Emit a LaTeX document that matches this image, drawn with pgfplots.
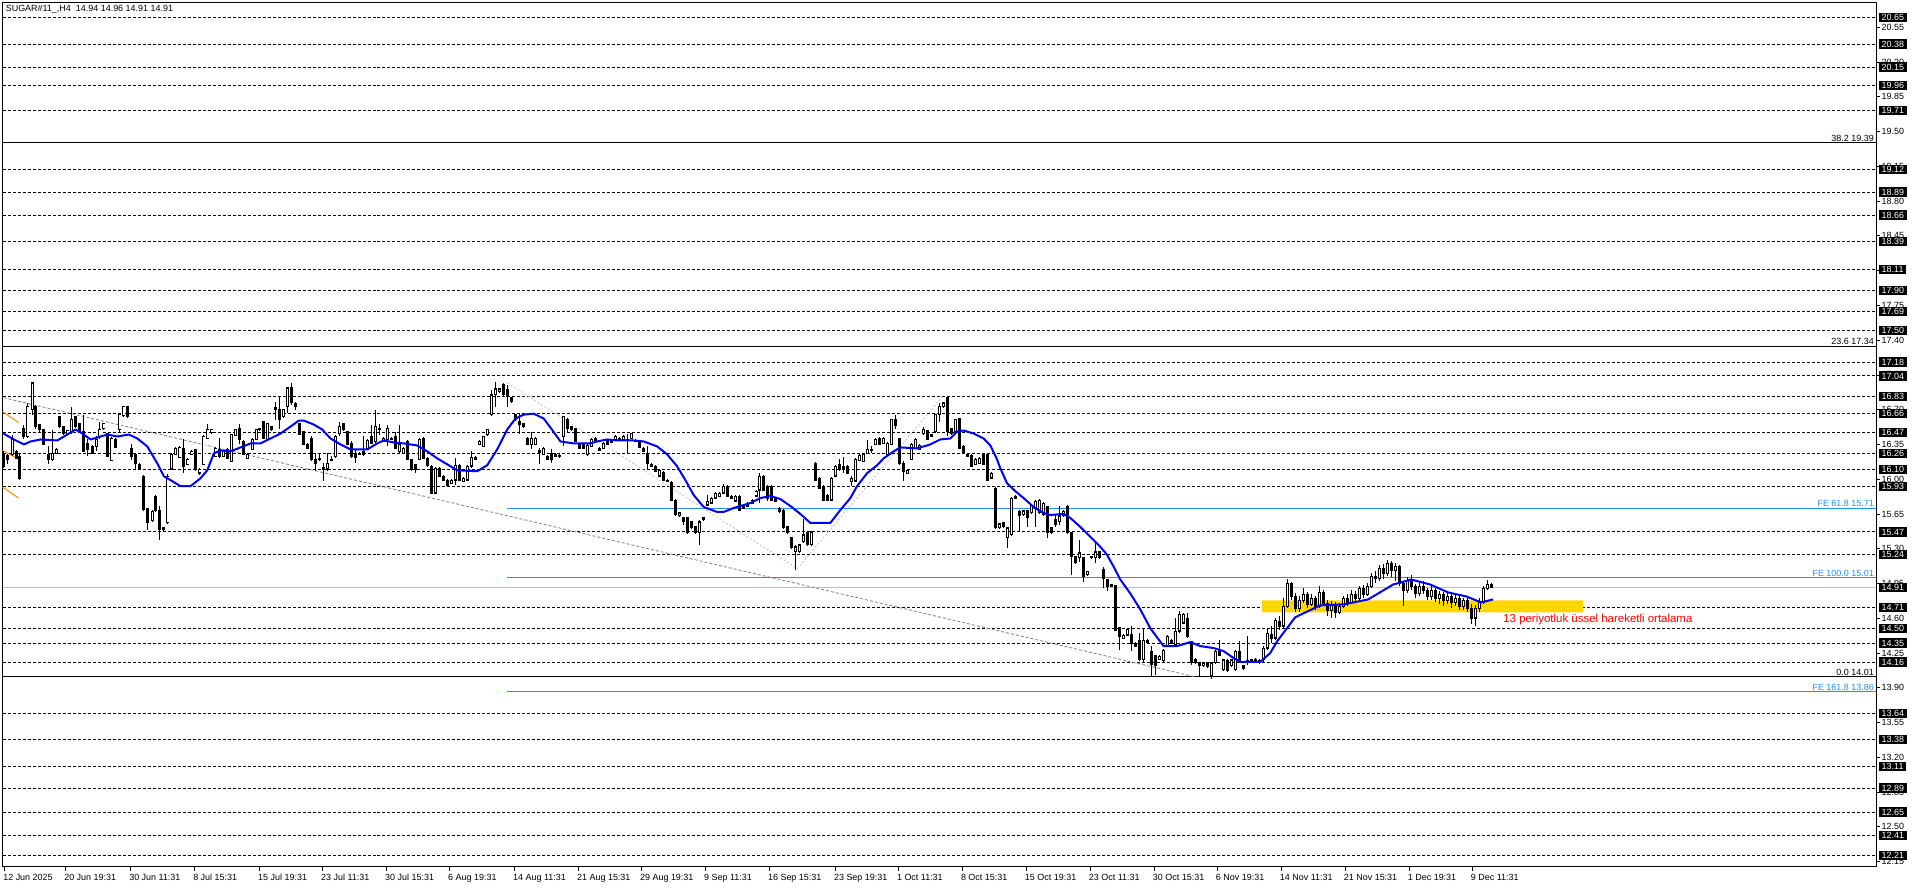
\documentclass[border=0pt]{standalone}
\usepackage{fontspec}
\setmainfont{Liberation Sans}
\usepackage{pgfplots}
\usepackage{pgfplotstable}
\pgfplotsset{compat=1.18}
\definecolor{feblue}{HTML}{1E90FF}
\definecolor{maBlue}{HTML}{0000FF}
\definecolor{goldy}{HTML}{FFD700}
\definecolor{orng}{HTML}{FF8C00}
\definecolor{silv}{HTML}{C0C0C0}

\pgfplotstableread{
x o h l c
2.7 16.26 16.28 16.11 16.13
7.3 16.24 16.25 16.15 16.20
11.7 16.25 16.45 16.23 16.40
15.7 16.28 16.29 16.20 16.21
19.3 16.23 16.25 15.99 16.01
23.3 16.51 16.55 16.40 16.43
27.3 16.43 16.77 16.41 16.73
31.7 16.70 16.97 16.65 16.97
35.3 16.73 16.75 16.51 16.53
39.3 16.55 16.56 16.48 16.50
43.3 16.50 16.51 16.34 16.35
47.7 16.25 16.33 16.15 16.20
51.7 16.20 16.50 16.18 16.26
55.7 16.26 16.31 16.25 16.30
59.3 16.63 16.64 16.52 16.53
63.3 16.53 16.54 16.45 16.46
67.3 16.46 16.50 16.45 16.49
71.0 16.48 16.73 16.46 16.60
75.3 16.63 16.64 16.52 16.53
79.3 16.56 16.57 16.47 16.48
83.3 16.48 16.65 16.27 16.28
87.3 16.36 16.40 16.23 16.30
91.7 16.33 16.34 16.25 16.26
95.7 16.33 16.43 16.28 16.40
99.3 16.43 16.58 16.40 16.50
103.3 16.51 16.57 16.50 16.56
107.3 16.46 16.47 16.22 16.23
111.3 16.19 16.42 16.18 16.41
115.3 16.40 16.41 16.31 16.32
119.3 16.50 16.67 16.48 16.65
123.3 16.64 16.74 16.63 16.73
127.3 16.73 16.74 16.62 16.63
131.3 16.31 16.35 16.19 16.23
135.3 16.25 16.25 16.09 16.16
139.3 16.15 16.16 16.10 16.11
143.3 16.03 16.04 15.68 15.69
147.3 15.71 15.71 15.49 15.56
151.7 15.58 15.69 15.57 15.68
155.3 15.83 15.84 15.67 15.68
159.3 15.69 15.73 15.39 15.49
163.3 15.51 15.52 15.48 15.49
167.3 15.56 16.05 15.55 16.03
171.0 16.10 16.26 16.09 16.25
175.0 16.25 16.32 16.24 16.31
179.3 16.22 16.33 16.21 16.32
183.3 16.31 16.40 16.06 16.13
187.3 16.15 16.21 16.14 16.20
191.3 16.25 16.29 16.24 16.28
195.3 16.30 16.30 16.08 16.10
199.3 16.06 16.11 16.04 16.10
203.3 16.15 16.44 16.14 16.43
207.3 16.41 16.56 16.40 16.50
211.3 16.47 16.51 16.46 16.50
215.3 16.23 16.32 16.22 16.31
219.3 16.30 16.41 16.21 16.23
223.3 16.23 16.29 16.22 16.28
227.3 16.30 16.31 16.20 16.21
231.3 16.18 16.46 16.17 16.45
235.3 16.44 16.51 16.43 16.50
239.3 16.51 16.56 16.35 16.40
243.3 16.38 16.39 16.24 16.25
247.3 16.21 16.26 16.20 16.25
251.7 16.30 16.41 16.29 16.40
255.7 16.40 16.51 16.39 16.50
259.3 16.50 16.52 16.49 16.51
263.3 16.58 16.59 16.40 16.41
267.3 16.40 16.57 16.39 16.56
271.3 16.53 16.54 16.49 16.50
275.3 16.70 16.78 16.60 16.72
279.3 16.70 16.83 16.51 16.60
283.3 16.63 16.71 16.62 16.70
287.3 16.73 16.92 16.67 16.92
291.3 16.92 16.97 16.75 16.77
295.3 16.76 16.78 16.70 16.73
299.3 16.56 16.57 16.44 16.45
303.3 16.48 16.49 16.34 16.35
307.3 16.35 16.36 16.30 16.31
311.3 16.41 16.43 16.18 16.20
315.3 16.20 16.25 16.08 16.16
319.3 16.20 16.25 16.18 16.21
323.3 16.12 16.16 15.98 16.10
327.3 16.10 16.26 16.08 16.16
331.3 16.19 16.23 16.18 16.20
335.3 16.23 16.45 16.21 16.43
339.3 16.46 16.58 16.43 16.53
343.3 16.56 16.57 16.49 16.50
347.3 16.48 16.49 16.34 16.35
351.3 16.36 16.38 16.21 16.23
355.3 16.26 16.30 16.16 16.22
359.3 16.25 16.27 16.24 16.26
363.3 16.28 16.43 16.23 16.25
367.3 16.30 16.40 16.29 16.39
371.3 16.43 16.55 16.35 16.36
375.3 16.38 16.70 16.36 16.53
379.3 16.51 16.56 16.45 16.50
383.3 16.38 16.42 16.37 16.41
387.3 16.40 16.55 16.33 16.51
391.3 16.41 16.42 16.39 16.40
395.3 16.43 16.48 16.31 16.31
399.3 16.28 16.55 16.26 16.35
403.3 16.26 16.32 16.25 16.31
407.3 16.38 16.39 16.19 16.20
411.3 16.20 16.20 16.08 16.10
415.3 16.15 16.15 16.06 16.10
419.3 16.20 16.41 16.19 16.40
423.3 16.41 16.42 16.20 16.21
427.3 16.21 16.22 16.12 16.14
431.3 16.13 16.14 15.85 15.86
435.3 15.86 16.12 15.85 16.11
439.3 16.11 16.12 16.02 16.03
443.3 16.03 16.04 15.98 15.99
447.3 15.99 16.00 15.93 15.94
451.3 15.96 16.00 15.95 15.99
455.3 15.99 16.21 15.94 16.14
459.3 16.14 16.15 15.98 15.99
463.3 15.98 16.02 15.97 16.01
467.3 15.99 16.14 15.98 16.13
471.3 16.13 16.28 16.11 16.22
475.3 16.20 16.23 16.19 16.22
479.3 16.35 16.39 16.34 16.38
483.3 16.33 16.44 16.32 16.43
487.3 16.45 16.51 16.44 16.50
491.3 16.65 16.90 16.64 16.85
495.3 16.85 16.98 16.73 16.91
499.3 16.88 16.92 16.87 16.91
503.3 16.95 16.97 16.84 16.85
507.3 16.90 16.95 16.73 16.83
511.3 16.82 16.83 16.77 16.78
515.3 16.65 16.66 16.59 16.60
519.3 16.58 16.67 16.46 16.55
523.3 16.56 16.57 16.52 16.53
527.3 16.41 16.42 16.34 16.35
531.3 16.35 16.48 16.30 16.41
535.3 16.35 16.42 16.34 16.41
539.3 16.27 16.31 16.15 16.29
543.3 16.25 16.32 16.24 16.31
547.3 16.23 16.24 16.19 16.20
551.3 16.26 16.30 16.16 16.20
555.3 16.25 16.26 16.22 16.23
559.3 16.24 16.26 16.21 16.23
563.3 16.43 16.63 16.33 16.63
567.3 16.60 16.62 16.48 16.51
571.3 16.53 16.54 16.49 16.50
575.3 16.51 16.52 16.37 16.38
579.3 16.35 16.36 16.30 16.31
583.3 16.35 16.36 16.30 16.31
587.3 16.25 16.35 16.23 16.34
591.3 16.33 16.41 16.32 16.40
595.3 16.41 16.42 16.37 16.38
599.3 16.29 16.32 16.28 16.31
603.3 16.31 16.37 16.30 16.36
607.3 16.39 16.40 16.34 16.35
611.3 16.37 16.40 16.36 16.39
615.3 16.40 16.44 16.39 16.43
619.3 16.40 16.42 16.39 16.41
623.3 16.40 16.44 16.39 16.43
627.3 16.40 16.46 16.26 16.39
631.3 16.41 16.47 16.40 16.46
635.3 16.39 16.40 16.37 16.38
639.3 16.37 16.38 16.31 16.32
643.3 16.31 16.32 16.27 16.28
647.3 16.26 16.33 16.10 16.16
651.3 16.15 16.16 16.12 16.13
655.3 16.13 16.14 16.07 16.08
659.3 16.03 16.10 16.02 16.09
663.3 16.07 16.08 15.98 15.99
667.3 15.99 16.00 15.97 15.98
671.3 15.97 15.98 15.78 15.79
675.3 15.79 15.80 15.63 15.64
679.3 15.63 15.67 15.62 15.66
683.3 15.61 15.61 15.54 15.57
687.3 15.61 15.62 15.45 15.46
691.3 15.57 15.58 15.50 15.51
695.3 15.52 15.53 15.45 15.46
699.3 15.46 15.59 15.34 15.57
703.3 15.59 15.62 15.58 15.61
707.3 15.74 15.84 15.73 15.78
711.3 15.76 15.82 15.75 15.81
715.3 15.81 15.87 15.80 15.86
719.3 15.83 15.87 15.82 15.86
723.3 15.86 15.95 15.85 15.93
727.3 15.93 15.94 15.82 15.83
731.3 15.83 15.84 15.80 15.81
735.3 15.78 15.84 15.77 15.83
739.3 15.83 15.84 15.68 15.69
743.3 15.74 15.75 15.70 15.71
747.3 15.76 15.77 15.72 15.73
751.7 15.76 15.80 15.75 15.79
755.7 15.83 15.89 15.82 15.88
759.3 15.89 16.06 15.76 16.03
763.3 16.03 16.04 15.88 15.89
767.3 15.93 15.94 15.78 15.81
771.3 15.93 15.94 15.78 15.79
775.3 15.81 15.82 15.77 15.78
779.3 15.71 15.72 15.66 15.67
783.3 15.69 15.70 15.50 15.51
787.3 15.52 15.53 15.45 15.46
791.3 15.41 15.42 15.30 15.31
795.3 15.27 15.34 15.09 15.32
799.3 15.27 15.35 15.26 15.34
803.3 15.37 15.60 15.36 15.44
807.3 15.46 15.47 15.33 15.34
811.3 15.34 15.48 15.33 15.47
815.3 16.16 16.17 15.98 15.99
819.3 16.01 16.02 15.90 15.91
823.3 15.93 15.94 15.78 15.79
827.3 15.84 15.85 15.78 15.79
831.3 15.79 16.02 15.78 16.01
835.3 16.03 16.14 16.02 16.13
839.3 16.15 16.20 16.08 16.10
843.3 16.13 16.22 16.06 16.10
847.3 16.13 16.14 16.05 16.06
851.3 15.98 16.03 15.93 16.01
855.3 15.98 16.21 15.97 16.20
859.3 16.19 16.25 16.18 16.24
863.3 16.18 16.26 16.17 16.25
867.3 16.26 16.39 16.25 16.30
871.3 16.30 16.33 16.26 16.29
875.3 16.35 16.41 16.34 16.40
879.3 16.41 16.42 16.34 16.35
883.3 16.36 16.42 16.35 16.41
887.3 16.25 16.37 16.24 16.36
891.3 16.35 16.61 16.34 16.60
895.3 16.60 16.65 16.51 16.54
899.3 16.41 16.41 16.14 16.16
903.3 16.16 16.18 15.98 16.08
907.3 16.06 16.10 16.05 16.09
911.3 16.20 16.36 16.19 16.35
915.3 16.31 16.41 16.30 16.40
919.3 16.30 16.35 16.29 16.34
923.3 16.46 16.53 16.45 16.50
927.3 16.49 16.50 16.39 16.40
931.3 16.43 16.46 16.42 16.45
935.3 16.48 16.66 16.47 16.65
939.3 16.65 16.77 16.58 16.73
943.3 16.73 16.78 16.72 16.77
947.3 16.82 16.83 16.43 16.48
951.3 16.51 16.52 16.45 16.46
955.3 16.48 16.61 16.47 16.60
959.3 16.61 16.62 16.30 16.31
963.3 16.33 16.34 16.25 16.26
967.3 16.25 16.26 16.22 16.23
971.3 16.24 16.25 16.12 16.13
975.3 16.15 16.21 16.14 16.20
979.3 16.16 16.22 16.15 16.21
983.3 16.25 16.26 16.14 16.15
987.3 16.25 16.26 15.98 15.99
991.3 16.01 16.07 16.00 16.06
995.3 15.91 15.92 15.50 15.51
999.3 15.51 15.56 15.50 15.55
1003.3 15.56 15.57 15.51 15.52
1007.3 15.41 15.52 15.31 15.51
1011.3 15.44 15.82 15.43 15.81
1015.3 15.81 15.84 15.80 15.83
1019.3 15.68 15.69 15.47 15.63
1023.3 15.64 15.69 15.63 15.68
1027.3 15.68 15.69 15.52 15.61
1031.3 15.66 15.75 15.65 15.74
1035.3 15.71 15.79 15.52 15.78
1039.3 15.66 15.80 15.65 15.79
1043.3 15.64 15.77 15.63 15.76
1047.3 15.73 15.73 15.41 15.46
1051.3 15.51 15.52 15.45 15.46
1055.3 15.59 15.64 15.52 15.54
1059.3 15.57 15.73 15.54 15.63
1063.3 15.63 15.69 15.62 15.68
1067.3 15.73 15.74 15.45 15.46
1071.3 15.46 15.46 15.04 15.22
1075.3 15.22 15.23 15.15 15.16
1079.3 15.21 15.39 15.17 15.26
1083.3 15.21 15.21 14.97 15.02
1087.3 15.04 15.08 15.03 15.07
1091.3 15.21 15.23 15.20 15.22
1095.3 15.21 15.37 15.16 15.27
1099.3 15.27 15.28 15.20 15.21
1103.3 15.09 15.12 14.90 15.00
1107.3 14.99 14.99 14.87 14.92
1111.3 14.94 14.95 14.91 14.92
1115.3 14.93 14.94 14.47 14.48
1119.3 14.51 14.51 14.28 14.42
1123.3 14.40 14.44 14.39 14.43
1127.3 14.43 14.50 14.42 14.49
1131.3 14.44 14.52 14.27 14.35
1135.3 14.35 14.36 14.31 14.32
1139.3 14.38 14.45 14.17 14.18
1143.3 14.18 14.50 14.15 14.38
1147.3 14.36 14.39 14.35 14.38
1151.3 14.27 14.32 14.02 14.13
1155.3 14.23 14.23 14.03 14.12
1159.3 14.19 14.23 14.18 14.22
1163.3 14.17 14.29 14.16 14.28
1167.3 14.32 14.43 14.31 14.42
1171.3 14.38 14.39 14.34 14.35
1175.3 14.33 14.60 14.32 14.47
1179.3 14.47 14.67 14.45 14.64
1183.3 14.55 14.65 14.54 14.64
1187.3 14.60 14.65 14.40 14.42
1191.3 14.37 14.37 14.13 14.15
1195.3 14.19 14.20 14.14 14.15
1199.3 14.15 14.15 14.02 14.12
1203.3 14.12 14.16 14.11 14.15
1207.3 14.15 14.16 14.10 14.11
1211.3 14.02 14.16 13.99 14.15
1215.3 14.15 14.28 14.14 14.27
1219.3 14.28 14.38 14.22 14.23
1223.3 14.08 14.19 14.07 14.18
1227.3 14.18 14.19 14.06 14.07
1231.3 14.12 14.19 14.11 14.18
1235.3 14.08 14.28 14.07 14.27
1239.3 14.27 14.37 14.15 14.18
1243.3 14.12 14.13 14.08 14.09
1247.3 14.15 14.42 14.13 14.18
1251.3 14.17 14.19 14.16 14.18
1255.3 14.17 14.20 14.16 14.19
1259.3 14.15 14.19 14.14 14.18
1263.3 14.18 14.32 14.16 14.30
1267.3 14.30 14.50 14.28 14.45
1271.3 14.44 14.52 14.35 14.40
1275.3 14.40 14.60 14.38 14.58
1279.3 14.57 14.62 14.48 14.52
1283.3 14.52 14.80 14.50 14.72
1287.3 14.72 15.00 14.70 14.95
1291.3 14.95 14.97 14.78 14.82
1295.3 14.82 14.85 14.66 14.70
1299.3 14.70 14.82 14.66 14.78
1303.3 14.78 14.90 14.75 14.84
1307.3 14.84 14.86 14.70 14.74
1311.3 14.74 14.84 14.72 14.80
1315.3 14.80 14.82 14.68 14.72
1319.3 14.72 14.93 14.70 14.86
1323.3 14.86 14.88 14.72 14.75
1327.3 14.75 14.78 14.62 14.68
1331.3 14.68 14.77 14.60 14.74
1335.3 14.74 14.76 14.60 14.66
1339.3 14.66 14.75 14.64 14.72
1343.3 14.72 14.82 14.70 14.80
1347.3 14.80 14.84 14.72 14.76
1351.3 14.76 14.88 14.74 14.84
1355.3 14.84 14.87 14.76 14.80
1359.3 14.80 14.93 14.78 14.90
1363.3 14.90 14.94 14.80 14.84
1367.3 14.84 14.96 14.82 14.92
1371.3 14.92 15.06 14.90 15.02
1375.3 15.02 15.08 14.96 15.00
1379.3 15.00 15.14 14.98 15.10
1383.3 15.10 15.15 15.00 15.05
1387.3 15.05 15.19 15.03 15.15
1391.3 15.15 15.18 15.02 15.08
1395.3 15.08 15.16 14.98 15.12
1399.3 15.12 15.14 14.92 14.95
1403.3 14.95 14.98 14.72 14.88
1407.3 14.88 15.02 14.85 14.98
1411.3 14.98 15.04 14.88 14.92
1415.3 14.92 14.95 14.80 14.85
1419.3 14.85 14.96 14.82 14.92
1423.3 14.92 14.98 14.84 14.88
1427.3 14.88 14.90 14.78 14.82
1431.3 14.82 14.92 14.78 14.88
1435.3 14.88 14.90 14.76 14.80
1439.3 14.80 14.87 14.74 14.84
1443.3 14.84 14.86 14.72 14.78
1447.3 14.78 14.86 14.74 14.82
1451.3 14.82 14.84 14.70 14.76
1455.3 14.76 14.83 14.72 14.80
1459.3 14.80 14.82 14.68 14.72
1463.3 14.72 14.80 14.68 14.78
1467.3 14.78 14.80 14.66 14.70
1471.3 14.70 14.74 14.54 14.60
1475.3 14.60 14.73 14.52 14.70
1479.3 14.70 14.80 14.66 14.76
1483.3 14.76 14.92 14.74 14.90
1487.3 14.90 14.99 14.88 14.94
1491.3 14.94 14.96 14.91 14.91
}\candles

\pgfplotstableread{
x y
2.7 16.46
13.3 16.40
23.3 16.35
30 16.38
40 16.40
56.7 16.39
66.7 16.45
75 16.50
81.7 16.46
90 16.40
100 16.43
106.7 16.45
116.7 16.43
128.3 16.45
136.7 16.41
146.7 16.33
156.7 16.16
163.3 16.03
171.7 15.98
180 15.93
190 15.93
200 16.01
206.7 16.09
213.3 16.26
220 16.29
230 16.28
240 16.32
250 16.36
260 16.36
270 16.41
280 16.46
290 16.53
298.3 16.59
303.3 16.59
313.3 16.55
321.7 16.50
330 16.41
340 16.35
350 16.30
366.7 16.30
376.7 16.36
383.3 16.39
393.3 16.37
403.3 16.36
416.7 16.34
426.7 16.28
436.7 16.21
450 16.13
456.7 16.09
476.7 16.08
486.7 16.14
496.7 16.30
506.7 16.50
515 16.61
523.3 16.65
533.3 16.66
543.3 16.61
550 16.52
560 16.38
573.3 16.36
590 16.36
596.7 16.38
606.7 16.40
616.7 16.39
633.3 16.39
643.3 16.38
656.7 16.33
666.7 16.25
676.7 16.13
685 15.99
693.3 15.84
703.3 15.72
716.7 15.67
723.3 15.67
733.3 15.71
750 15.76
760 15.81
770 15.83
780 15.80
790 15.73
800 15.65
810 15.56
830 15.56
840 15.69
850 15.81
856.7 15.93
866.7 16.06
876.7 16.14
883.3 16.21
893.3 16.28
900 16.32
916.7 16.31
930 16.35
940 16.40
950 16.41
956.7 16.48
963.3 16.49
973.3 16.46
983.3 16.41
990 16.34
996.7 16.20
1000 16.11
1006.7 15.96
1015 15.88
1023.3 15.81
1033.3 15.72
1043.3 15.66
1050 15.64
1063.3 15.65
1070 15.61
1080 15.52
1090 15.42
1100 15.32
1106.7 15.24
1113.3 15.12
1120 14.99
1130 14.85
1140 14.69
1150 14.50
1163.3 14.32
1176.7 14.32
1190 14.36
1200 14.32
1213.3 14.30
1223.3 14.27
1233.3 14.20
1240 14.16
1260 14.16
1270 14.25
1277 14.37
1295 14.61
1320 14.73
1344 14.74
1368 14.79
1393 14.94
1411 14.99
1430 14.94
1448 14.86
1466 14.82
1481 14.76
1493 14.79
}\ema

\begin{document}
\begin{tikzpicture}
\begin{axis}[
  scale only axis, width=1874bp, height=864bp,
  xmin=2, xmax=1876, ymin=12.099, ymax=20.794,
  clip=false,
  axis line style={black, line width=1bp},
  tick align=outside, major tick length=4bp,
  tick style={black, line width=0.8bp},
  xtick pos=bottom, ytick pos=right, yticklabel pos=right,
  xtick={4,65,130,194,259,322,386,449,514,578,641,705,769,835,898,962,1026,1090,1154,1217,1281,1345,1409,1472},
  xticklabels={12 Jun 2025,20 Jun 19:31,30 Jun 11:31,8 Jul 15:31,15 Jul 19:31,23 Jul 11:31,30 Jul 15:31,6 Aug 19:31,14 Aug 11:31,21 Aug 15:31,29 Aug 19:31,9 Sep 11:31,16 Sep 15:31,23 Sep 19:31,1 Oct 11:31,8 Oct 15:31,15 Oct 19:31,23 Oct 11:31,30 Oct 15:31,6 Nov 19:31,14 Nov 11:31,21 Nov 15:31,1 Dec 19:31,9 Dec 11:31},
  xticklabel style={anchor=north west, inner sep=0pt, xshift=-1.5bp, yshift=-3bp, font=\fontsize{9}{10}\selectfont},
  ytick={12.15,12.50,12.85,13.20,13.55,13.90,14.25,14.60,14.95,15.30,15.65,16.00,16.35,16.70,17.05,17.40,17.75,18.10,18.45,18.80,19.15,19.50,19.85,20.20,20.55},
  yticklabels={12.15,12.50,12.85,13.20,13.55,13.90,14.25,14.60,14.95,15.30,15.65,16.00,16.35,16.70,17.05,17.40,17.75,18.10,18.45,18.80,19.15,19.50,19.85,20.20,20.55},
  yticklabel style={font=\fontsize{9}{10}\selectfont, inner sep=1bp, xshift=0.5bp},
]
% dashed horizontal levels
\pgfplotsinvokeforeach{20.65,20.38,20.15,19.96,19.71,19.12,18.89,18.66,18.39,18.11,17.90,17.69,17.50,17.18,17.04,16.83,16.66,16.47,16.26,16.10,15.93,15.47,15.24,14.71,14.50,14.35,14.16,13.64,13.38,13.11,12.89,12.65,12.41,12.21}{
  \addplot[forget plot, black, line width=0.9bp, dash pattern=on 3bp off 2bp] coordinates {(2,#1) (1876,#1)};
}
% Fibonacci retracement levels
\addplot[forget plot, black, line width=1bp] coordinates {(2,19.39) (1876,19.39)};
\addplot[forget plot, black, line width=1bp] coordinates {(2,17.34) (1876,17.34)};
\addplot[forget plot, black, line width=1bp] coordinates {(2,14.01) (1876,14.01)};
% Fibonacci expansion levels
\addplot[forget plot, feblue, line width=1bp] coordinates {(507,15.71) (1876,15.71)};
\addplot[forget plot, feblue, line width=1bp] coordinates {(507,15.01) (1876,15.01)};
\addplot[forget plot, feblue, line width=1bp] coordinates {(507,13.86) (1876,13.86)};
% current price line
\addplot[forget plot, silv, line width=1bp] coordinates {(2,14.91) (1876,14.91)};
% trend line and expansion helper lines
\addplot[forget plot, gray, line width=0.8bp, dash pattern=on 3bp off 2bp] coordinates {(3,16.82) (1195,14.01)};
\addplot[forget plot, silv, line width=0.8bp, dash pattern=on 2bp off 2bp] coordinates {(507,16.97) (797,15.10) (942,16.83)};
% orange channel stubs
\addplot[forget plot, orng, line width=1bp] coordinates {(2,16.68) (18,16.57)};
\addplot[forget plot, orng, line width=1bp] coordinates {(2,16.29) (18,16.20)};
\addplot[forget plot, orng, line width=1bp] coordinates {(2,15.92) (18,15.81)};
% yellow zone
\addplot[forget plot, fill=goldy, draw=none] coordinates {(1262,14.66) (1583,14.66) (1583,14.78) (1262,14.78) (1262,14.66)};
% candles: wicks
\addplot[forget plot, draw=none, mark=none, error bars/.cd, y dir=both, y explicit, error mark=none,
  error bar style={draw=black, line width=1bp}]
  table[x=x, y expr={(\thisrow{h}+\thisrow{l})/2}, y error expr={(\thisrow{h}-\thisrow{l})/2}] {\candles};
% candles: bodies
\addplot[forget plot, draw=none, mark=none, error bars/.cd, y dir=both, y explicit, error mark=none,
  error bar style={draw=black, line width=3bp}]
  table[x=x, y expr={(\thisrow{o}+\thisrow{c})/2}, y error expr={abs(\thisrow{c}-\thisrow{o})/2+0.005}] {\candles};
% white interior for up candles
\addplot[forget plot, draw=none, mark=none, restrict expr to domain={\thisrow{c}-\thisrow{o}}{0.025:100},
  error bars/.cd, y dir=both, y explicit, error mark=none,
  error bar style={draw=white, line width=1.3bp}]
  table[x=x, y expr={(\thisrow{o}+\thisrow{c})/2}, y error expr={(\thisrow{c}-\thisrow{o})/2-0.008}] {\candles};
% 13-period EMA
\addplot[forget plot, maBlue, line width=2bp, line join=round] table[x=x, y=y] {\ema};

% texts
\node[anchor=west, inner sep=0pt, font=\fontsize{9}{10}\selectfont] at (axis cs:5,20.735) {SUGAR\#11\_,H4\ \ 14.94 14.96 14.91 14.91};
\node[anchor=south east, inner sep=1bp, font=\fontsize{9}{10}\selectfont] at (axis cs:1875,19.39) {38.2 19.39};
\node[anchor=south east, inner sep=1bp, font=\fontsize{9}{10}\selectfont] at (axis cs:1875,17.34) {23.6 17.34};
\node[anchor=south east, inner sep=1bp, font=\fontsize{9}{10}\selectfont] at (axis cs:1875,14.01) {0.0 14.01};
\node[anchor=south east, inner sep=1bp, text=feblue, font=\fontsize{9}{10}\selectfont] at (axis cs:1875,15.71) {FE 61.8 15.71};
\node[anchor=south east, inner sep=1bp, text=feblue, font=\fontsize{9}{10}\selectfont] at (axis cs:1875,15.01) {FE 100.0 15.01};
\node[anchor=south east, inner sep=1bp, text=feblue, font=\fontsize{9}{10}\selectfont] at (axis cs:1875,13.86) {FE 161.8 13.86};
\node[anchor=west, inner sep=0pt, text=red, font=\fontsize{11.5}{12}\selectfont] at (axis cs:1503,14.585) {13 periyotluk üssel hareketli ortalama};
% right-hand price boxes
\pgfplotsinvokeforeach{20.65,20.38,20.15,19.96,19.71,19.12,18.89,18.66,18.39,18.11,17.90,17.69,17.50,17.18,17.04,16.83,16.66,16.47,16.26,16.10,15.93,15.47,15.24,14.91,14.71,14.50,14.35,14.16,13.64,13.38,13.11,12.89,12.65,12.41,12.21}{
  \node[anchor=west, fill=black, text=white, inner xsep=3bp, inner ysep=1.2bp, text height=6.6bp, text depth=0.3bp, font=\fontsize{9}{10}\selectfont] at (axis cs:1878.5,#1) {#1};
}
\end{axis}
\path ([xshift=-2bp,yshift=-21bp]current axis.south west) rectangle ([xshift=40bp,yshift=3bp]current axis.north east);
\end{tikzpicture}
\end{document}
